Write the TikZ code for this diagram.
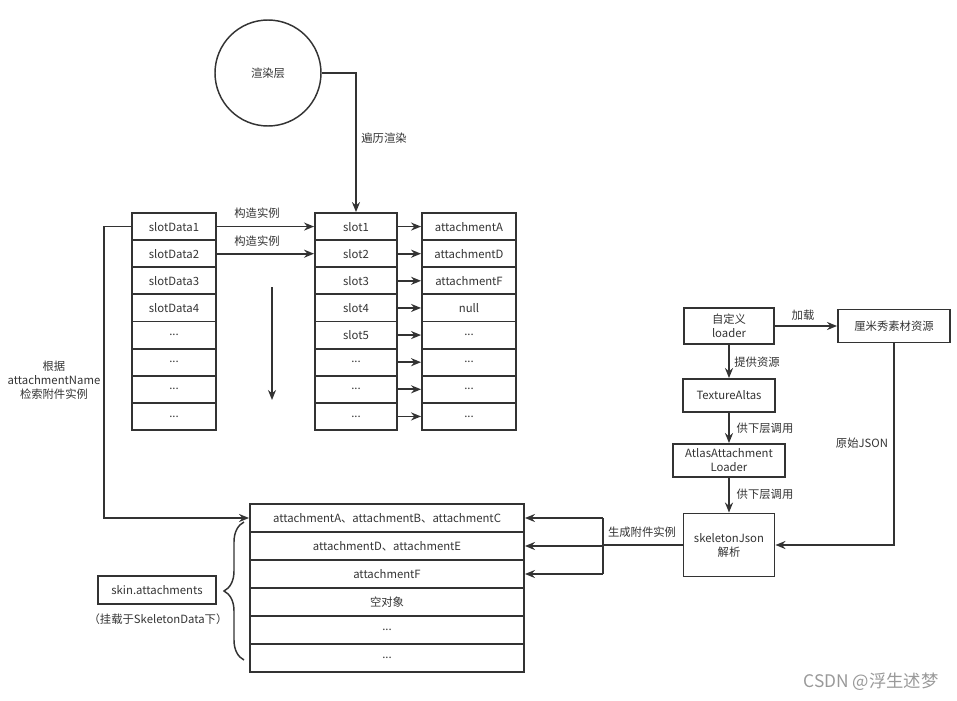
\documentclass[tikz,border=0pt]{standalone}
\usepackage{fontspec}
\setmainfont{Noto Sans CJK SC}
\usetikzlibrary{arrows.meta,decorations.pathreplacing}
\definecolor{ink}{HTML}{333333}
\newcommand\mydots{...}
\begin{document}
\begin{tikzpicture}[x=0.75pt,y=-0.75pt,
  font=\fontsize{8.5}{10.5}\selectfont,
  every node/.style={text=ink},
  cell/.style={draw=ink, line width=1.4pt, minimum height=20.3pt, inner sep=0pt},
  bcell/.style={draw=ink, line width=1.4pt, minimum height=21pt, minimum width=205.5pt, inner sep=0pt},
  box/.style={draw=ink, line width=1.4pt, inner sep=0pt, align=center},
  arr/.style={draw=ink, line width=1.4pt, -{Stealth[length=7.5pt,width=6pt]}},
  ln/.style={draw=ink, line width=1.4pt},
  lbl/.style={inner sep=1pt, align=center}]
\useasboundingbox (0,0) rectangle (957,700);

% render layer
\node[draw=ink, line width=1.1pt, circle, minimum size=79.5pt, inner sep=0pt] (layer) at (268,73) {渲染层};

% slotData column
\foreach \t [count=\i] in {slotData1,slotData2,slotData3,slotData4,\mydots,\mydots,\mydots,\mydots}
  \node[cell, minimum width=63pt] (sd\i) at (174,{213+27.125*(\i-0.5)}) {\t};
% slot column
\foreach \t [count=\i] in {slot1,slot2,slot3,slot4,slot5,\mydots,\mydots,\mydots}
  \node[cell, minimum width=61.5pt] (s\i) at (356,{213+27.125*(\i-0.5)}) {\t};
% attachment column
\foreach \t [count=\i] in {attachmentA,attachmentD,attachmentF,null,\mydots,\mydots,\mydots,\mydots}
  \node[cell, minimum width=70.5pt] (a\i) at (469,{213+27.125*(\i-0.5)}) {\t};
\foreach \i in {1,...,8}
  \draw[arr] (s\i.east) -- (a\i.west);

% bottom table
\foreach \t [count=\i] in {{attachmentA、attachmentB、attachmentC},{attachmentD、attachmentE},attachmentF,空对象,\mydots,\mydots}
  \node[bcell] (b\i) at (387,{504+28*(\i-0.5)}) {\t};

% render traversal
\draw[arr] (layer.east) -| (s1.north);
\node[lbl] (lt) at (384,138) {遍历渲染};

% construct instances
\draw[arr] (sd1.east) -- (s1.west);
\draw[arr] (sd2.east) -- (s2.west);
\node[lbl] (c1) at (257,213) {构造实例};
\node[lbl] (c2) at (257,241) {构造实例};
\coordinate (vt) at (272,287);
\coordinate (vb) at (272,400);
\draw[arr] (vt) -- (vb);

% lookup by attachmentName
\draw[arr] (sd1.west) -- ++(-27,0) |- (b1.west);
\node[lbl] (lk) at (54,380) {根据\\attachmentName\\检索附件实例};

% skin.attachments
\node[box, minimum width=88.5pt, minimum height=21pt] (skin) at (157,590) {skin.attachments};
\node[lbl] (skinl) at (158,619) {（挂载于SkeletonData下）};
\coordinate (brb) at (244,660);
\coordinate (brt) at (244,522);
\draw[ink, line width=1.1pt, decorate, decoration={brace, amplitude=15pt}] (brb) -- (brt);

% right side
\node[box, minimum width=67.5pt, minimum height=27pt] (loader) at (729,326) {自定义\\loader};
\node[box, minimum width=84pt, minimum height=24.75pt] (cmx) at (894,326) {厘米秀素材资源};
\node[box, minimum width=69pt, minimum height=24.75pt] (atlas) at (729,395.5) {TextureAltas};
\node[box, minimum width=84pt, minimum height=24.75pt] (aal) at (729,460.5) {AtlasAttachment\\Loader};
\node[box, minimum width=68.25pt, minimum height=47.25pt] (sj) at (729,545) {skeletonJson\\解析};

\draw[arr] (loader.east) -- (cmx.west);
\node[lbl] (l1) at (803,315) {加载};
\draw[arr] (loader.south) -- (atlas.north);
\node[lbl] (l2) at (757,362) {提供资源};
\draw[arr] (atlas.south) -- (aal.north);
\node[lbl] (l3) at (765,428) {供下层调用};
\draw[arr] (aal.south) -- (sj.north);
\node[lbl] (l4) at (765,494) {供下层调用};
\draw[arr] (cmx.south) |- (sj.east);
\node[lbl] (l5) at (862,443) {原始JSON};

% generate attachment instances
\coordinate (br) at (603,545);
\draw[ln] (sj.west) -- (br);
\draw[ln] (br |- b1.east) -- (br |- b3.east);
\foreach \i in {1,2,3}
  \draw[arr] (br |- b\i.east) -- (b\i.east);
\node[lbl] (l6) at (642,532) {生成附件实例};

% watermark
\node[lbl, text=gray!80, font=\fontsize{13}{15}\selectfont] (wm) at (871,682) {CSDN @浮生述梦};
\end{tikzpicture}
\end{document}
